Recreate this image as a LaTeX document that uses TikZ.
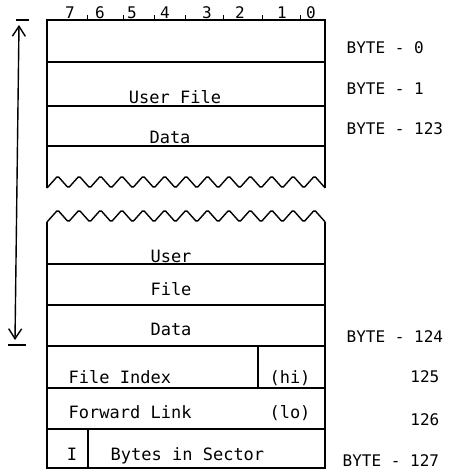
\documentclass[tikz,border=0pt]{standalone}
\usepackage{fontspec}
\setmonofont{DejaVu Sans Mono}
\usetikzlibrary{arrows.meta}

\begin{document}
\begin{tikzpicture}[x=1pt,y=-1pt,>={Straight Barb[length=10pt,width=13pt]},line width=1.4pt,
    boxtext/.style={font=\ttfamily\fontsize{17}{17}\selectfont,inner sep=0pt,anchor=base},
    bytetext/.style={font=\ttfamily\fontsize{16}{16}\selectfont,inner sep=0pt,anchor=base west},
    bittext/.style={font=\ttfamily\fontsize{16}{16}\selectfont,inner sep=0pt,anchor=base}]
    \useasboundingbox (0,0) rectangle (456,471);

    % sector edges (picture units are pixels, y downwards)
    \def\xl{47}
    \def\xr{325}
    \def\wave{10.7}

    % upper part of the sector
    \draw (\xl,188) -- (\xl,20) -- (\xr,20) -- (\xr,188);
    \foreach \y in {62,106,146} \draw (\xl,\y) -- (\xr,\y);
    \draw[rounded corners=1.5pt] (\xl,188)
        \foreach \i in {1,...,13} { -- ++(\wave,-12) -- ++(\wave,12) };

    % lower part of the sector
    \draw[rounded corners=1.5pt] (\xl,222)
        \foreach \i in {1,...,13} { -- ++(\wave,-12) -- ++(\wave,12) };
    \draw (\xl,222) -- (\xl,468) -- (\xr,468) -- (\xr,222);
    \foreach \y in {264,305,346,388,429} \draw (\xl,\y) -- (\xr,\y);
    \draw (258,346) -- (258,388);
    \draw (88,429) -- (88,468);

    % bit numbers over the top edge
    \foreach \b/\x in {7/70,6/100,5/132,4/165,3/207,2/240,1/282,0/311}
        \node[bittext] (bit\b) at (\x,18) {\b};
    \foreach \x in {87,123,154,185,223,262,300}
        \draw[line width=1pt] (\x,20) -- (\x,15);

    % data range arrow
    \coordinate (rangetop) at (19,25);
    \coordinate (rangebot) at (15,340);
    \draw[<->] (rangetop) -- (rangebot);
    \draw (16,20) -- (29,20);
    \draw (8,345) -- (26,345);

    % field texts
    \node[boxtext] (ufile) at (175,103) {User File};
    \node[boxtext] (udata) at (170,143) {Data};
    \node[boxtext] (luser) at (171,262) {User};
    \node[boxtext] (lfile) at (171,295) {File};
    \node[boxtext] (ldata) at (171,335) {Data};
    \node[boxtext,anchor=base west] (findex) at (68,383) {File Index};
    \node[boxtext] (hi) at (290,383) {(hi)};
    \node[boxtext,anchor=base west] (flink) at (68,418) {Forward Link};
    \node[boxtext] (lo) at (290,418) {(lo)};
    \node[boxtext] (ibit) at (72,460) {I};
    \node[boxtext,anchor=base west] (bsect) at (110,460) {Bytes in Sector};

    % byte numbers
    \node[bytetext] (byte0) at (346,53) {BYTE - 0};
    \node[bytetext] (byte1) at (346,94) {BYTE - 1};
    \node[bytetext] (byte123) at (346,134) {BYTE - 123};
    \node[bytetext] (byte124) at (346,342) {BYTE - 124};
    \node[bytetext,anchor=base east] (byte125) at (440,382) {125};
    \node[bytetext,anchor=base east] (byte126) at (440,425) {126};
    \node[bytetext] (byte127) at (342,466) {BYTE - 127};
\end{tikzpicture}
\end{document}
